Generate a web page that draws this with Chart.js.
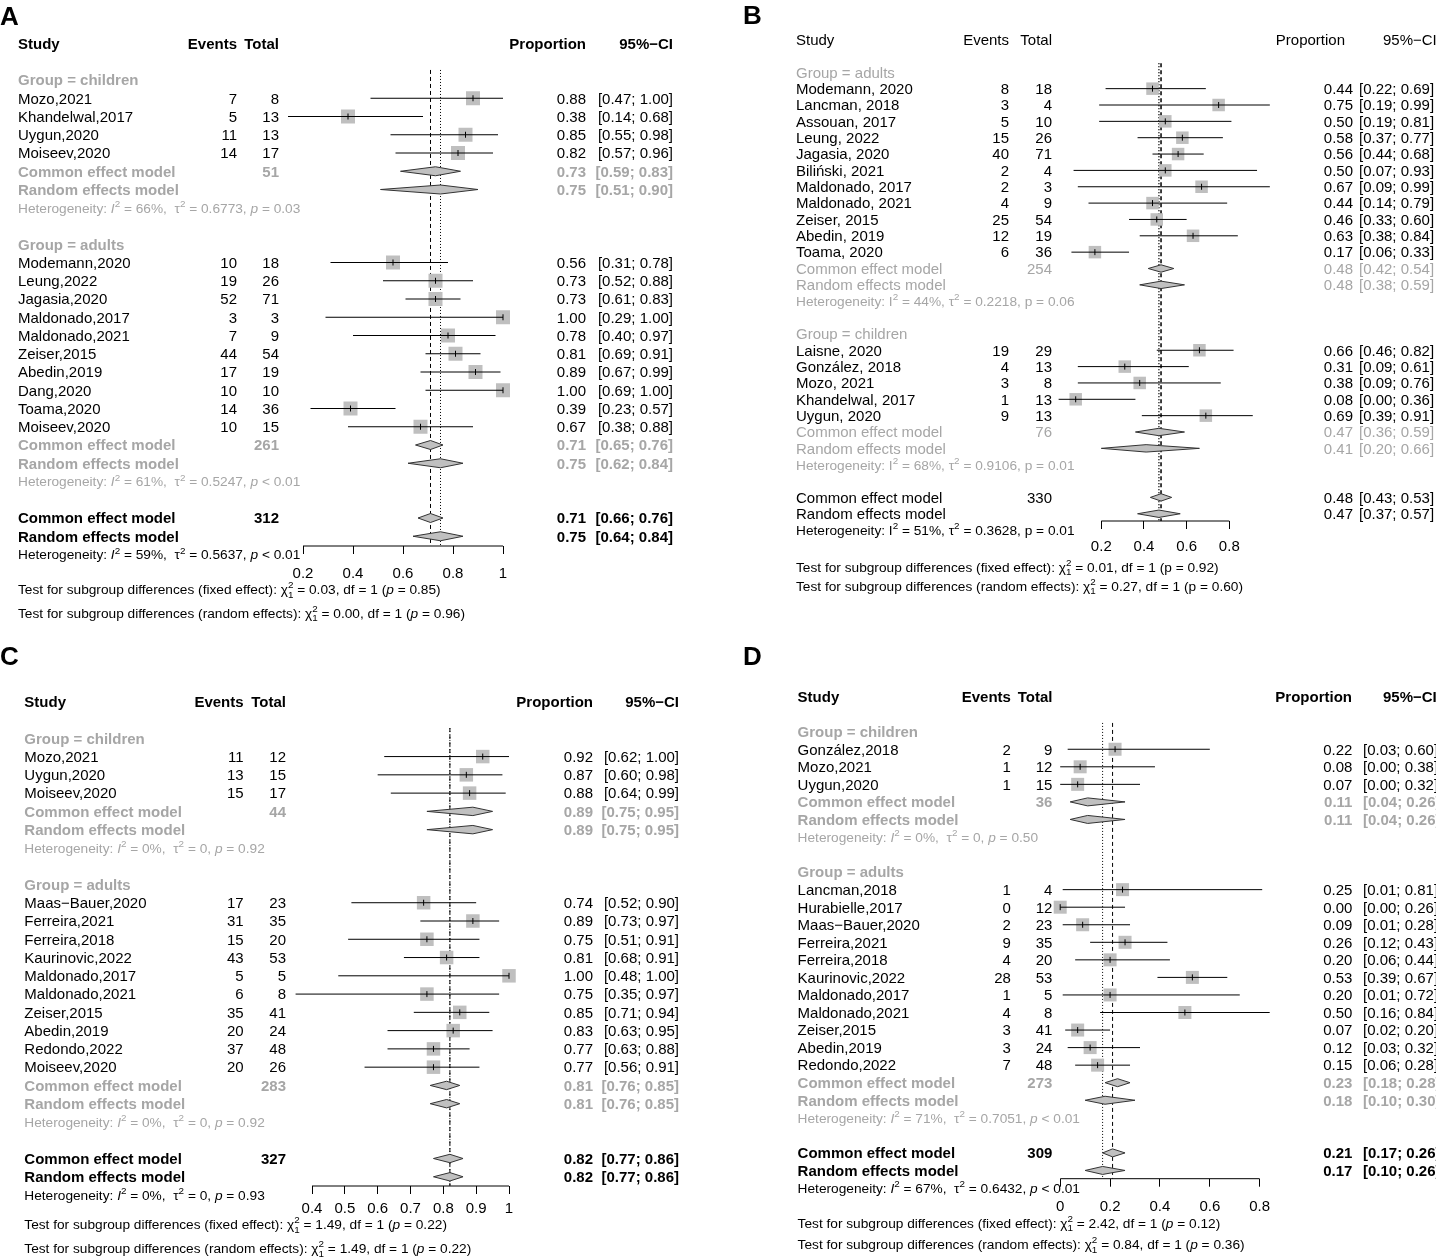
<!DOCTYPE html>
<html><head><meta charset="utf-8">
<script src="https://cdn.jsdelivr.net/npm/chart.js@4.4.1/dist/chart.umd.min.js"></script>
<style>
html,body{margin:0;padding:0;background:#fff;}
body{width:1436px;height:1257px;position:relative;overflow:hidden;}
canvas{position:absolute;}
</style></head><body>
<script>
// ---------------- DATA ----------------
// Panel A
const A_groups = ["children", "adults"];
const A_study = ["Mozo,2021","Khandelwal,2017","Uygun,2020","Moiseev,2020","Modemann,2020","Leung,2022","Jagasia,2020","Maldonado,2017","Maldonado,2021","Zeiser,2015","Abedin,2019","Dang,2020","Toama,2020","Moiseev,2020"];
const A_group = [0,0,0,0,1,1,1,1,1,1,1,1,1,1];
const A_events = [7,5,11,14,10,19,52,3,7,44,17,10,14,10];
const A_total = [8,13,13,17,18,26,71,3,9,54,19,10,36,15];
const A_prop = [0.88,0.38,0.85,0.82,0.56,0.73,0.73,1.00,0.78,0.81,0.89,1.00,0.39,0.67];
const A_lower = [0.47,0.14,0.55,0.57,0.31,0.52,0.61,0.29,0.40,0.69,0.67,0.69,0.23,0.38];
const A_upper = [1.00,0.68,0.98,0.96,0.78,0.88,0.83,1.00,0.97,0.91,0.99,1.00,0.57,0.88];
const A_subN = [51, 261];
const A_subCommon = [[0.73,0.59,0.83],[0.71,0.65,0.76]];
const A_subRandom = [[0.75,0.51,0.90],[0.75,0.62,0.84]];
const A_subHet = [["66%","0.6773","= 0.03"],["61%","0.5247","< 0.01"]];
const A_allN = 312;
const A_allCommon = [0.71,0.66,0.76];
const A_allRandom = [0.75,0.64,0.84];
const A_allHet = ["59%","0.5637","< 0.01"];
const A_tests = [["0.03","0.85"],["0.00","0.96"]];
const A_ticks = [0.2,0.4,0.6,0.8,1];
const A_tickLabels = ["0.2","0.4","0.6","0.8","1"];

// Panel B
const B_groups = ["adults", "children"];
const B_study = ["Modemann, 2020","Lancman, 2018","Assouan, 2017","Leung, 2022","Jagasia, 2020","Biliński, 2021","Maldonado, 2017","Maldonado, 2021","Zeiser, 2015","Abedin, 2019","Toama, 2020","Laisne, 2020","González, 2018","Mozo, 2021","Khandelwal, 2017","Uygun, 2020"];
const B_group = [0,0,0,0,0,0,0,0,0,0,0,1,1,1,1,1];
const B_events = [8,3,5,15,40,2,2,4,25,12,6,19,4,3,1,9];
const B_total = [18,4,10,26,71,4,3,9,54,19,36,29,13,8,13,13];
const B_prop = [0.44,0.75,0.50,0.58,0.56,0.50,0.67,0.44,0.46,0.63,0.17,0.66,0.31,0.38,0.08,0.69];
const B_lower = [0.22,0.19,0.19,0.37,0.44,0.07,0.09,0.14,0.33,0.38,0.06,0.46,0.09,0.09,0.00,0.39];
const B_upper = [0.69,0.99,0.81,0.77,0.68,0.93,0.99,0.79,0.60,0.84,0.33,0.82,0.61,0.76,0.36,0.91];
const B_subN = [254, 76];
const B_subCommon = [[0.48,0.42,0.54],[0.47,0.36,0.59]];
const B_subRandom = [[0.48,0.38,0.59],[0.41,0.20,0.66]];
const B_subHet = [["44%","0.2218","= 0.06"],["68%","0.9106","= 0.01"]];
const B_allN = 330;
const B_allCommon = [0.48,0.43,0.53];
const B_allRandom = [0.47,0.37,0.57];
const B_allHet = ["51%","0.3628","= 0.01"];
const B_tests = [["0.01","0.92"],["0.27","0.60"]];
const B_ticks = [0.2,0.4,0.6,0.8];
const B_tickLabels = ["0.2","0.4","0.6","0.8"];

// Panel C
const C_groups = ["children", "adults"];
const C_study = ["Mozo,2021","Uygun,2020","Moiseev,2020","Maas\u2212Bauer,2020","Ferreira,2021","Ferreira,2018","Kaurinovic,2022","Maldonado,2017","Maldonado,2021","Zeiser,2015","Abedin,2019","Redondo,2022","Moiseev,2020"];
const C_group = [0,0,0,1,1,1,1,1,1,1,1,1,1];
const C_events = [11,13,15,17,31,15,43,5,6,35,20,37,20];
const C_total = [12,15,17,23,35,20,53,5,8,41,24,48,26];
const C_prop = [0.92,0.87,0.88,0.74,0.89,0.75,0.81,1.00,0.75,0.85,0.83,0.77,0.77];
const C_lower = [0.62,0.60,0.64,0.52,0.73,0.51,0.68,0.48,0.35,0.71,0.63,0.63,0.56];
const C_upper = [1.00,0.98,0.99,0.90,0.97,0.91,0.91,1.00,0.97,0.94,0.95,0.88,0.91];
const C_subN = [44, 283];
const C_subCommon = [[0.89,0.75,0.95],[0.81,0.76,0.85]];
const C_subRandom = [[0.89,0.75,0.95],[0.81,0.76,0.85]];
const C_subHet = [["0%","0","= 0.92"],["0%","0","= 0.92"]];
const C_allN = 327;
const C_allCommon = [0.82,0.77,0.86];
const C_allRandom = [0.82,0.77,0.86];
const C_allHet = ["0%","0","= 0.93"];
const C_tests = [["1.49","0.22"],["1.49","0.22"]];
const C_ticks = [0.4,0.5,0.6,0.7,0.8,0.9,1];
const C_tickLabels = ["0.4","0.5","0.6","0.7","0.8","0.9","1"];

// Panel D
const D_groups = ["children", "adults"];
const D_study = ["González,2018","Mozo,2021","Uygun,2020","Lancman,2018","Hurabielle,2017","Maas\u2212Bauer,2020","Ferreira,2021","Ferreira,2018","Kaurinovic,2022","Maldonado,2017","Maldonado,2021","Zeiser,2015","Abedin,2019","Redondo,2022"];
const D_group = [0,0,0,1,1,1,1,1,1,1,1,1,1,1];
const D_events = [2,1,1,1,0,2,9,4,28,1,4,3,3,7];
const D_total = [9,12,15,4,12,23,35,20,53,5,8,41,24,48];
const D_prop = [0.22,0.08,0.07,0.25,0.00,0.09,0.26,0.20,0.53,0.20,0.50,0.07,0.12,0.15];
const D_lower = [0.03,0.00,0.00,0.01,0.00,0.01,0.12,0.06,0.39,0.01,0.16,0.02,0.03,0.06];
const D_upper = [0.60,0.38,0.32,0.81,0.26,0.28,0.43,0.44,0.67,0.72,0.84,0.20,0.32,0.28];
const D_subN = [36, 273];
const D_subCommon = [[0.11,0.04,0.26],[0.23,0.18,0.28]];
const D_subRandom = [[0.11,0.04,0.26],[0.18,0.10,0.30]];
const D_subHet = [["0%","0","= 0.50"],["71%","0.7051","< 0.01"]];
const D_allN = 309;
const D_allCommon = [0.21,0.17,0.26];
const D_allRandom = [0.17,0.10,0.26];
const D_allHet = ["67%","0.6432","< 0.01"];
const D_tests = [["2.42","0.12"],["0.84","0.36"]];
const D_ticks = [0,0.2,0.4,0.6,0.8];
const D_tickLabels = ["0","0.2","0.4","0.6","0.8"];

// ---------------- LAYOUT / STYLE ----------------
const FF = "'Liberation Sans', Arial, Helvetica, sans-serif";
const GREY = '#a6a6a6';
const AXIS_H = 40;
const GEOM = {
  A:{left:0,top:0,w:718,h:632,letter:'A',letterX:0,letterBase:25,row0:80,rowH:18.25,axisY:546,x0:303,x1:503,plotL:180,plotR:560,tickPad:11,
     study:18,events:237,total:279,prop:586,propHead:586,ci:673,ciAlign:'right',ciHead:673,ciHeadAlign:'right',
     tests:[589,612.7],bold:true,italic:true,sq:14,dh:4.5,refTop:-0.55,refW:1},
  B:{left:718,top:0,w:718,h:632,letter:'B',letterX:743,letterBase:24,row0:72.3,rowH:16.35,axisY:521,x0:1101.3,x1:1229.3,plotL:990,plotR:1300,tickPad:9,
     study:796,events:1009,total:1052,prop:1353,propHead:1345,ci:1359,ciAlign:'left',ciHead:1383,ciHeadAlign:'left',
     tests:[566.7,585.7],bold:false,italic:false,sq:12.5,dh:3.7,refTop:-0.55,refW:1.5},
  C:{left:0,top:632,w:718,h:625,letter:'C',letterX:0,letterBase:665,row0:738.3,rowH:18.27,axisY:1186,x0:312,x1:509,plotL:200,plotR:560,tickPad:6,
     study:24.3,events:243.6,total:286,prop:593,propHead:593,ci:679,ciAlign:'right',ciHead:679,ciHeadAlign:'right',
     tests:[1224,1248.3],bold:true,italic:true,sq:13.5,dh:4.2,refTop:-0.56,refW:1},
  D:{left:718,top:632,w:718,h:625,letter:'D',letterX:743,letterBase:665,row0:731.7,rowH:17.55,axisY:1178.7,x0:1060.2,x1:1259.7,plotL:1000,plotR:1310,tickPad:11,
     study:797.6,events:1010.9,total:1052.4,prop:1352.4,propHead:1352,ci:1363,ciAlign:'left',ciHead:1383,ciHeadAlign:'left',
     tests:[1222.7,1244],bold:true,italic:true,sq:13,dh:4,refTop:-0.5,refW:1}
};

const PANELS = {
  A:{groups:A_groups,study:A_study,group:A_group,events:A_events,total:A_total,prop:A_prop,lower:A_lower,upper:A_upper,subN:A_subN,subCommon:A_subCommon,subRandom:A_subRandom,subHet:A_subHet,allN:A_allN,allCommon:A_allCommon,allRandom:A_allRandom,allHet:A_allHet,tests:A_tests,ticks:A_ticks,tickLabels:A_tickLabels},
  B:{groups:B_groups,study:B_study,group:B_group,events:B_events,total:B_total,prop:B_prop,lower:B_lower,upper:B_upper,subN:B_subN,subCommon:B_subCommon,subRandom:B_subRandom,subHet:B_subHet,allN:B_allN,allCommon:B_allCommon,allRandom:B_allRandom,allHet:B_allHet,tests:B_tests,ticks:B_ticks,tickLabels:B_tickLabels},
  C:{groups:C_groups,study:C_study,group:C_group,events:C_events,total:C_total,prop:C_prop,lower:C_lower,upper:C_upper,subN:C_subN,subCommon:C_subCommon,subRandom:C_subRandom,subHet:C_subHet,allN:C_allN,allCommon:C_allCommon,allRandom:C_allRandom,allHet:C_allHet,tests:C_tests,ticks:C_ticks,tickLabels:C_tickLabels},
  D:{groups:D_groups,study:D_study,group:D_group,events:D_events,total:D_total,prop:D_prop,lower:D_lower,upper:D_upper,subN:D_subN,subCommon:D_subCommon,subRandom:D_subRandom,subHet:D_subHet,allN:D_allN,allCommon:D_allCommon,allRandom:D_allRandom,allHet:D_allHet,tests:D_tests,ticks:D_ticks,tickLabels:D_tickLabels}
};

// ---------------- HELPERS ----------------
const f2 = v => v.toFixed(2);
const ciStr = (lo, hi) => '[' + f2(lo) + '; ' + f2(hi) + ']';

function drawRich(ctx, segs, x, yc, align, size, color, bold) {
  const items = segs.map(s => typeof s === 'string' ? {t:s} : s);
  const fontFor = it => {
    const fs = (it.sup || it.sub) ? size * 0.72 : size;
    return (it.i ? 'italic ' : '') + (bold ? 'bold ' : '') + fs + 'px ' + FF;
  };
  let total = 0;
  const ws = items.map(it => { ctx.font = fontFor(it); const w = ctx.measureText(it.t).width; if (!it.noAdv) total += w; return w; });
  let cx = align === 'right' ? x - total : (align === 'center' ? x - total / 2 : x);
  const base = yc + 0.355 * size;
  ctx.fillStyle = color; ctx.textAlign = 'left'; ctx.textBaseline = 'alphabetic';
  items.forEach((it, k) => {
    ctx.font = fontFor(it);
    let y = base;
    if (it.sup) y -= size * 0.42;
    if (it.sub) y += size * 0.28;
    ctx.fillText(it.t, cx, y);
    if (!it.noAdv) cx += ws[k];
  });
}
function hetSegs(h, italic) {
  return ['Heterogeneity: ', {t:'I', i:italic}, {t:'2', sup:true}, ' = ' + h[0] + ', ' + (italic ? ' ' : ''), '\u03c4', {t:'2', sup:true}, ' = ' + h[1] + ', ', {t:'p', i:italic}, ' ' + h[2]];
}
function testSegs(kind, t, italic) {
  return ['Test for subgroup differences (' + kind + '): ', '\u03c7', {t:'2', sup:true, noAdv:true}, {t:'1', sub:true}, ' = ' + t[0] + ', df = 1 (', {t:'p', i:italic}, ' = ' + t[1] + ')'];
}

function makePanel(key) {
  const D = PANELS[key], G = GEOM[key];
  const canvas = document.createElement('canvas');
  canvas.width = G.w; canvas.height = G.h;
  canvas.style.left = G.left + 'px'; canvas.style.top = G.top + 'px';
  canvas.style.width = G.w + 'px'; canvas.style.height = G.h + 'px';
  document.body.appendChild(canvas);

  // row assignment
  const studyRow = [], groupRow = [], subRow = [];
  let r = 0;
  D.groups.forEach((g, gi) => {
    groupRow.push(r); r++;
    D.study.forEach((s, i) => { if (D.group[i] === gi) { studyRow[i] = r; r++; } });
    subRow.push(r); r += 4;
  });
  const allRow = r;
  const yMax = (G.axisY - G.row0) / G.rowH;
  const dh = G.dh / G.rowH;
  const t0 = D.ticks[0], t1 = D.ticks[D.ticks.length - 1];
  const ppu = (G.x1 - G.x0) / (t1 - t0);
  const xMin = t0 - (G.x0 - G.plotL) / ppu;
  const xMax = t1 + (G.plotR - G.x1) / ppu;

  const datasets = [];
  // axis line (from first to last tick)
  datasets.push({type:'line', order:0, data:[{x:t0, y:yMax},{x:t1, y:yMax}], borderColor:'#000', borderWidth:1, pointRadius:0, clip:false});
  // reference lines (bottom layer)
  datasets.push({type:'line', order:5, data:[{x:D.allCommon[0], y:G.refTop},{x:D.allCommon[0], y:yMax}], borderColor:'#000', borderWidth:G.refW, borderDash:[4,3], pointRadius:0, clip:false});
  datasets.push({type:'line', order:5, data:[{x:D.allRandom[0], y:G.refTop},{x:D.allRandom[0], y:yMax}], borderColor:'#000', borderWidth:G.refW, borderDash:[1,2], pointRadius:0, clip:false});
  // squares
  datasets.push({type:'scatter', order:4, data:D.prop.map((p, i) => ({x:p, y:studyRow[i]})), pointStyle:'rect', pointRadius:(G.sq / 2) / Math.SQRT1_2, pointBackgroundColor:'#bfbfbf', pointBorderWidth:0, pointBorderColor:'rgba(0,0,0,0)', clip:false});
  // CI lines
  const ciData = [];
  D.study.forEach((s, i) => { ciData.push({x:D.lower[i], y:studyRow[i]}, {x:D.upper[i], y:studyRow[i]}, {x:null, y:null}); });
  datasets.push({type:'line', order:2, data:ciData, borderColor:'#000', borderWidth:1, pointRadius:0, spanGaps:false, clip:false});
  // estimate ticks
  datasets.push({type:'scatter', order:1, data:D.prop.map((p, i) => ({x:p, y:studyRow[i]})), pointStyle:'line', pointRotation:90, pointRadius:3, pointBorderColor:'#000', pointBorderWidth:1, clip:false});
  // diamonds
  const diamond = (v, row) => ({type:'line', order:3, data:[{x:v[1], y:row},{x:v[0], y:row - dh},{x:v[2], y:row},{x:v[0], y:row + dh},{x:v[1], y:row}],
    borderColor:'#333', borderWidth:1, backgroundColor:'#c0c0c0', fill:'shape', pointRadius:0, clip:false});
  D.groups.forEach((g, gi) => {
    datasets.push(diamond(D.subCommon[gi], subRow[gi]));
    datasets.push(diamond(D.subRandom[gi], subRow[gi] + 1));
  });
  datasets.push(diamond(D.allCommon, allRow));
  datasets.push(diamond(D.allRandom, allRow + 1));

  const textPlugin = {
    id:'txt' + key,
    afterDraw(chart) {
      const ctx = chart.ctx; const ys = chart.scales.y;
      const Y = row => ys.getPixelForValue(row);
      const X = px => px - G.left;
      const S = 15, SS = 13.7, hb = G.bold;
      ctx.save();
      ctx.font = 'bold 26px ' + FF; ctx.fillStyle = '#000'; ctx.textAlign = 'left'; ctx.textBaseline = 'alphabetic';
      ctx.fillText(G.letter, X(G.letterX), G.letterBase - G.top);
      const hy = Y(-2);
      drawRich(ctx, ['Study'], X(G.study), hy, 'left', S, '#000', hb);
      drawRich(ctx, ['Events'], X(G.events), hy, 'right', S, '#000', hb);
      drawRich(ctx, ['Total'], X(G.total), hy, 'right', S, '#000', hb);
      drawRich(ctx, ['Proportion'], X(G.propHead), hy, 'right', S, '#000', hb);
      drawRich(ctx, ['95%\u2212CI'], X(G.ciHead), hy, G.ciHeadAlign, S, '#000', hb);
      D.study.forEach((s, i) => {
        const y = Y(studyRow[i]);
        drawRich(ctx, [s], X(G.study), y, 'left', S, '#000', false);
        drawRich(ctx, [String(D.events[i])], X(G.events), y, 'right', S, '#000', false);
        drawRich(ctx, [String(D.total[i])], X(G.total), y, 'right', S, '#000', false);
        drawRich(ctx, [f2(D.prop[i])], X(G.prop), y, 'right', S, '#000', false);
        drawRich(ctx, [ciStr(D.lower[i], D.upper[i])], X(G.ci), y, G.ciAlign, S, '#000', false);
      });
      D.groups.forEach((g, gi) => {
        drawRich(ctx, ['Group = ' + g], X(G.study), Y(groupRow[gi]), 'left', S, GREY, hb);
        const sr = subRow[gi];
        drawRich(ctx, ['Common effect model'], X(G.study), Y(sr), 'left', S, GREY, hb);
        drawRich(ctx, [String(D.subN[gi])], X(G.total), Y(sr), 'right', S, GREY, hb);
        drawRich(ctx, [f2(D.subCommon[gi][0])], X(G.prop), Y(sr), 'right', S, GREY, hb);
        drawRich(ctx, [ciStr(D.subCommon[gi][1], D.subCommon[gi][2])], X(G.ci), Y(sr), G.ciAlign, S, GREY, hb);
        drawRich(ctx, ['Random effects model'], X(G.study), Y(sr + 1), 'left', S, GREY, hb);
        drawRich(ctx, [f2(D.subRandom[gi][0])], X(G.prop), Y(sr + 1), 'right', S, GREY, hb);
        drawRich(ctx, [ciStr(D.subRandom[gi][1], D.subRandom[gi][2])], X(G.ci), Y(sr + 1), G.ciAlign, S, GREY, hb);
        drawRich(ctx, hetSegs(D.subHet[gi], G.italic), X(G.study), Y(sr + 2), 'left', SS, GREY, false);
      });
      drawRich(ctx, ['Common effect model'], X(G.study), Y(allRow), 'left', S, '#000', hb);
      drawRich(ctx, [String(D.allN)], X(G.total), Y(allRow), 'right', S, '#000', hb);
      drawRich(ctx, [f2(D.allCommon[0])], X(G.prop), Y(allRow), 'right', S, '#000', hb);
      drawRich(ctx, [ciStr(D.allCommon[1], D.allCommon[2])], X(G.ci), Y(allRow), G.ciAlign, S, '#000', hb);
      drawRich(ctx, ['Random effects model'], X(G.study), Y(allRow + 1), 'left', S, '#000', hb);
      drawRich(ctx, [f2(D.allRandom[0])], X(G.prop), Y(allRow + 1), 'right', S, '#000', hb);
      drawRich(ctx, [ciStr(D.allRandom[1], D.allRandom[2])], X(G.ci), Y(allRow + 1), G.ciAlign, S, '#000', hb);
      drawRich(ctx, hetSegs(D.allHet, G.italic), X(G.study), Y(allRow + 2), 'left', SS, '#000', false);
      drawRich(ctx, testSegs('fixed effect', D.tests[0], G.italic), X(G.study), G.tests[0] - G.top, 'left', SS, '#000', false);
      drawRich(ctx, testSegs('random effects', D.tests[1], G.italic), X(G.study), G.tests[1] - G.top, 'left', SS, '#000', false);
      ctx.restore();
    }
  };

  new Chart(canvas, {
    type:'scatter',
    data:{datasets},
    options:{
      responsive:false, animation:false, events:[],
      layout:{padding:{left:G.plotL - G.left, right:G.w - (G.plotR - G.left), top:(G.row0 - G.rowH) - G.top, bottom:G.h - (G.axisY - G.top) - AXIS_H}},
      plugins:{legend:{display:false}, tooltip:{enabled:false}, title:{display:false}},
      scales:{
        x:{type:'linear', position:'bottom', min:xMin, max:xMax,
           afterBuildTicks:s => { s.ticks = D.ticks.map(v => ({value:v})); },
           afterFit:s => { s.height = AXIS_H; },
           ticks:{autoSkip:false, maxRotation:0, minRotation:0, padding:G.tickPad, color:'#000', font:{size:15, family:FF},
                  callback:(v, i) => { const k = D.ticks.indexOf(v); return k >= 0 ? D.tickLabels[k] : D.tickLabels[i]; }},
           grid:{drawOnChartArea:false, drawTicks:true, tickLength:8, color:'#000', lineWidth:1},
           border:{display:false}},
        y:{type:'linear', display:false, reverse:true, min:-1, max:yMax}
      }
    },
    plugins:[textPlugin]
  });
}
Chart.defaults.font.family = FF;
['A','B','C','D'].forEach(makePanel);
</script>
</body></html>
